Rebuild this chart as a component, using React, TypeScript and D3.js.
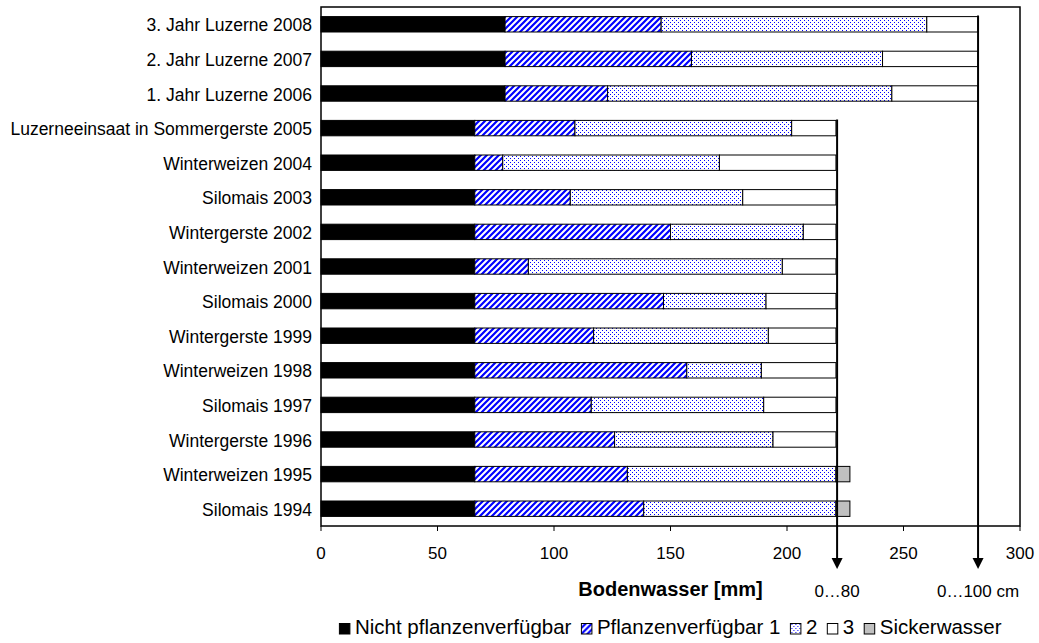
import React, { useEffect, useRef } from "react";
import * as d3 from "d3";

const categories = [
  "3. Jahr Luzerne 2008",
  "2. Jahr Luzerne 2007",
  "1. Jahr Luzerne 2006",
  "Luzerneeinsaat in Sommergerste 2005",
  "Winterweizen 2004",
  "Silomais 2003",
  "Wintergerste 2002",
  "Winterweizen 2001",
  "Silomais 2000",
  "Wintergerste 1999",
  "Winterweizen 1998",
  "Silomais 1997",
  "Wintergerste 1996",
  "Winterweizen 1995",
  "Silomais 1994",
];

const nichtPflanzenverfuegbar = [79, 79, 79, 66, 66, 66, 66, 66, 66, 66, 66, 66, 66, 66, 66];
const pflanzenverfuegbar1 = [67, 80, 44, 43, 12, 41, 84, 23, 81, 51, 91, 50, 60, 65.5, 72.5];
const pflanzenverfuegbar2 = [114, 82, 122, 93, 93, 74, 57, 109, 44, 75, 32, 74, 68, 89.5, 82.5];
const pflanzenverfuegbar3 = [22, 41, 37, 19, 50, 40, 14, 23, 30, 29, 32, 31, 27, 0, 0];
const sickerwasser = [0, 0, 0, 0, 0, 0, 0, 0, 0, 0, 0, 0, 0, 6, 6];

const seriesNames = ["Nicht pflanzenverfügbar", "Pflanzenverfügbar 1", "2", "3", "Sickerwasser"];
const xTicks = [0, 50, 100, 150, 200, 250, 300];
const markerValues = [221.5, 282];
const markerLabels = ["0…80", "0…100 cm"];
const markerTopCategories = ["Luzerneeinsaat in Sommergerste 2005", "3. Jahr Luzerne 2008"];
const axisTitle = "Bodenwasser [mm]";

const FONT = "'Liberation Sans', Arial, Helvetica, sans-serif";

export default function App() {
  const ref = useRef<SVGSVGElement>(null);

  useEffect(() => {
    const svg = d3.select(ref.current);
    svg.selectAll("*").remove();

    const x = d3.scaleLinear().domain([0, 300]).range([321, 1020]);
    const y = d3
      .scaleBand<string>()
      .domain(categories)
      .range([7, 526])
      .paddingInner(0.555)
      .paddingOuter(0.2775);

    const defs = svg.append("defs");
    const hatch = defs
      .append("pattern")
      .attr("id", "hatch")
      .attr("patternUnits", "userSpaceOnUse")
      .attr("width", 6)
      .attr("height", 6);
    hatch.append("rect").attr("width", 6).attr("height", 6).attr("fill", "#fff");
    hatch
      .append("path")
      .attr("d", "M-1,7 L7,-1 M-4,4 L4,-4 M2,10 L10,2")
      .attr("stroke", "#0000ff")
      .attr("stroke-width", 2.2);

    const dots = defs
      .append("pattern")
      .attr("id", "dots")
      .attr("patternUnits", "userSpaceOnUse")
      .attr("width", 4)
      .attr("height", 4);
    dots.append("rect").attr("width", 4).attr("height", 4).attr("fill", "#fff");
    dots.append("rect").attr("x", 0).attr("y", 0).attr("width", 1).attr("height", 1).attr("fill", "#0000ff");
    dots.append("rect").attr("x", 2).attr("y", 2).attr("width", 1).attr("height", 1).attr("fill", "#0000ff");

    const fills = ["#000000", "url(#hatch)", "url(#dots)", "#ffffff", "#c0c0c0"];
    const keys = ["s0", "s1", "s2", "s3", "s4"];
    const rows = categories.map((c, i) => ({
      cat: c,
      s0: nichtPflanzenverfuegbar[i],
      s1: pflanzenverfuegbar1[i],
      s2: pflanzenverfuegbar2[i],
      s3: pflanzenverfuegbar3[i],
      s4: sickerwasser[i],
    }));
    const stacked = d3.stack<any>().keys(keys)(rows);

    const bars = svg.append("g");
    stacked.forEach((layer, li) => {
      bars
        .append("g")
        .selectAll("rect")
        .data(layer.filter((d) => d[1] - d[0] > 0))
        .join("rect")
        .attr("x", (d) => x(d[0]))
        .attr("y", (d) => y(d.data.cat) as number)
        .attr("width", (d) => x(d[1]) - x(d[0]))
        .attr("height", y.bandwidth())
        .attr("fill", fills[li])
        .attr("stroke", "#000")
        .attr("stroke-width", 1);
    });

    // plot box
    svg
      .append("rect")
      .attr("x", x(0))
      .attr("y", 7)
      .attr("width", x(300) - x(0))
      .attr("height", 519)
      .attr("fill", "none")
      .attr("stroke", "#000")
      .attr("stroke-width", 1.5);

    // x ticks
    const axis = svg.append("g");
    axis
      .selectAll("line")
      .data(xTicks)
      .join("line")
      .attr("x1", (d) => x(d))
      .attr("x2", (d) => x(d))
      .attr("y1", 526)
      .attr("y2", 531)
      .attr("stroke", "#000")
      .attr("stroke-width", 1);
    axis
      .selectAll("text")
      .data(xTicks)
      .join("text")
      .attr("x", (d) => x(d))
      .attr("y", 559)
      .attr("text-anchor", "middle")
      .attr("font-family", FONT)
      .attr("font-size", 17)
      .text((d) => String(d));

    // y labels
    svg
      .append("g")
      .selectAll("text")
      .data(categories)
      .join("text")
      .attr("x", 312)
      .attr("y", (d) => (y(d) as number) + y.bandwidth() / 2 + 7)
      .attr("text-anchor", "end")
      .attr("font-family", FONT)
      .attr("font-size", 17.5)
      .text((d) => d);

    // marker arrows
    markerValues.forEach((v, i) => {
      const mx = x(v);
      const top = y(markerTopCategories[i]) as number;
      svg
        .append("line")
        .attr("x1", mx)
        .attr("x2", mx)
        .attr("y1", top - 1)
        .attr("y2", 560)
        .attr("stroke", "#000")
        .attr("stroke-width", 2);
      svg
        .append("path")
        .attr("d", `M${mx - 5.5},558 L${mx + 5.5},558 L${mx},569 Z`)
        .attr("fill", "#000");
      svg
        .append("text")
        .attr("x", mx)
        .attr("y", 597)
        .attr("text-anchor", "middle")
        .attr("font-family", FONT)
        .attr("font-size", 17)
        .text(markerLabels[i]);
    });

    // axis title
    svg
      .append("text")
      .attr("x", (x(0) + x(300)) / 2)
      .attr("y", 596)
      .attr("text-anchor", "middle")
      .attr("font-family", FONT)
      .attr("font-size", 20)
      .attr("font-weight", "bold")
      .text(axisTitle);

    // legend
    const legend = svg.append("g");
    const sq = 10.5;
    const gapText = 5;
    const gapItem = 10;
    let cx = 0;
    seriesNames.forEach((name, i) => {
      legend
        .append("rect")
        .attr("x", cx)
        .attr("y", 623.5)
        .attr("width", sq)
        .attr("height", sq)
        .attr("fill", fills[i])
        .attr("stroke", "#000")
        .attr("stroke-width", 1);
      const t = legend
        .append("text")
        .attr("x", cx + sq + gapText)
        .attr("y", 634)
        .attr("font-family", FONT)
        .attr("font-size", 20.5)
        .text(name);
      const w = (t.node() as SVGTextElement).getComputedTextLength();
      cx += sq + gapText + w + gapItem;
    });
    const total = cx - gapItem;
    legend.attr("transform", `translate(${(x(0) + x(300)) / 2 - total / 2},0)`);
  }, []);

  return (
    <svg
      ref={ref}
      width={1039}
      height={643}
      style={{ position: "absolute", left: 0, top: 0, background: "#fff", display: "block" }}
    />
  );
}
